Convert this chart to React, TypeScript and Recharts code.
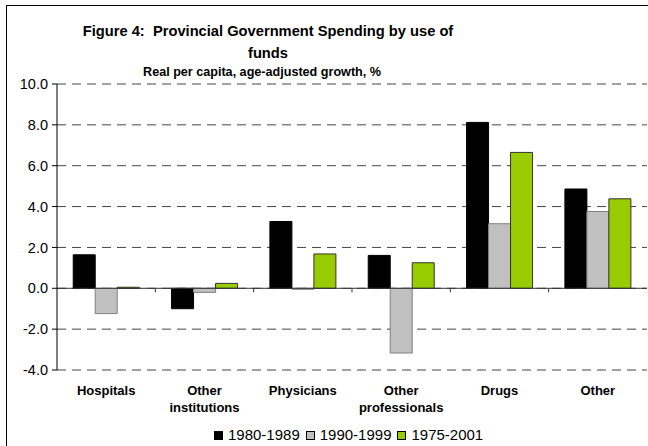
import React from 'react';
import { BarChart, Bar, XAxis, YAxis, CartesianGrid, ReferenceLine } from 'recharts';

const categories = ['Hospitals', 'Other\ninstitutions', 'Physicians', 'Other\nprofessionals', 'Drugs', 'Other'];
const s1980 = [1.64, -1.0, 3.27, 1.61, 8.12, 4.86];
const s1990 = [-1.24, -0.2, -0.05, -3.17, 3.16, 3.76];
const s1975 = [0.05, 0.24, 1.68, 1.25, 6.65, 4.38];
const yTicks = [-4, -2, 0, 2, 4, 6, 8, 10];

const series = [
  { key: 'p1980', name: '1980-1989', fill: '#000000', stroke: '#000000' },
  { key: 'p1990', name: '1990-1999', fill: '#C0C0C0', stroke: '#808080' },
  { key: 'p1975', name: '1975-2001', fill: '#99CC00', stroke: '#333333' },
];

const data = categories.map((c, i) => ({
  cat: c,
  p1980: s1980[i],
  p1990: s1990[i],
  p1975: s1975[i],
}));

const font = '"Liberation Sans", Arial, sans-serif';

function CatTick(props: any) {
  const { x, y, payload } = props;
  const lines = String(payload.value).split('\n');
  return (
    <text x={x} y={y} textAnchor="middle" fontFamily={font} fontWeight="bold" fontSize={13} fill="#000">
      {lines.map((l, i) => (
        <tspan key={i} x={x} dy={i === 0 ? 17 : 17}>{l}</tspan>
      ))}
    </text>
  );
}

// zero line with small ticks between categories
function ZeroLine(props: any) {
  const { x1, x2, y1 } = props;
  const n = categories.length;
  const step = (x2 - x1) / n;
  const marks = [];
  for (let i = 1; i < n; i++) {
    const x = x1 + step * i;
    marks.push(<line key={i} x1={x} x2={x} y1={y1} y2={y1 + 4} stroke="#333" />);
  }
  return (
    <g>
      <line x1={x1} x2={x2} y1={y1} y2={y1} stroke="#333" strokeWidth={1} />
      {marks}
    </g>
  );
}

export default function App() {
  return (
    <div style={{ position: 'absolute', left: 0, top: 0, width: 648, height: 446, overflow: 'hidden', background: '#fff', fontFamily: font }}>
      <div style={{ position: 'absolute', left: 6, top: 5, width: 700, height: 500, border: '1px solid #000' }} />
      <div style={{ position: 'absolute', left: 0, width: 536, top: 20, textAlign: 'center', fontWeight: 'bold', fontSize: 14.7, lineHeight: '22px' }}>
        Figure 4:&nbsp; Provincial Government Spending by use of<br />funds
      </div>
      <div style={{ position: 'absolute', left: 0, width: 524, top: 65, textAlign: 'center', fontWeight: 'bold', fontSize: 12.6, lineHeight: '14px' }}>
        Real per capita, age-adjusted growth, %
      </div>
      <div style={{ position: 'absolute', left: 0, top: 0 }}>
        <BarChart
          width={648}
          height={446}
          data={data}
          margin={{ top: 84, right: 1, left: 0, bottom: 36 }}
          barCategoryGap="16.5%"
          barGap={0}
        >
          <CartesianGrid vertical={false} stroke="#444" strokeDasharray="9 6" />
          <XAxis
            dataKey="cat"
            height={40}
            axisLine={false}
            tickLine={false}
            interval={0}
            tick={<CatTick />}
          />
          <YAxis
            width={57}
            domain={[-4, 10]}
            ticks={yTicks}
            interval={0}
            tickFormatter={(v: number) => v.toFixed(1)}
            axisLine={{ stroke: '#000' }}
            tickLine={{ stroke: '#000' }}
            tickSize={5}
            tickMargin={4}
            tick={{ fill: '#000', fontSize: 14.5, fontFamily: font }}
          />
          <ReferenceLine y={0} shape={<ZeroLine />} />
          {series.map((s) => (
            <Bar
              key={s.key}
              dataKey={s.key}
              name={s.name}
              fill={s.fill}
              stroke={s.stroke}
              strokeWidth={1}
              isAnimationActive={false}
            />
          ))}
        </BarChart>
      </div>
      <div style={{ position: 'absolute', left: 214, top: 426, display: 'flex', alignItems: 'center', fontSize: 15, lineHeight: '18px' }}>
        {series.map((s) => (
          <div key={s.key} style={{ display: 'flex', alignItems: 'center', marginRight: 6 }}>
            <span style={{ display: 'inline-block', width: 7, height: 7, background: s.fill, border: '1px solid #000', marginRight: 5 }} />
            <span>{s.name}</span>
          </div>
        ))}
      </div>
    </div>
  );
}
